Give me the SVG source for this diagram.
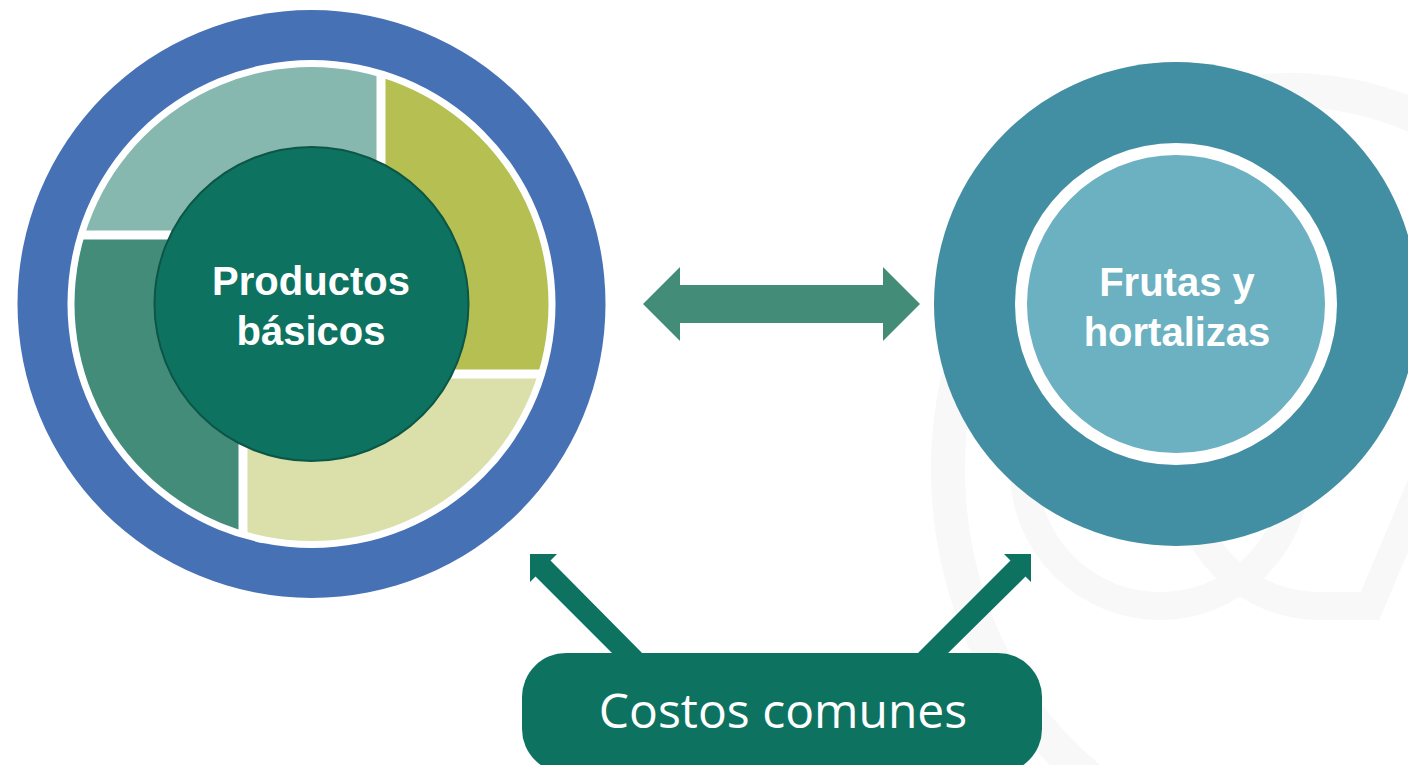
<svg xmlns="http://www.w3.org/2000/svg" width="1408" height="765" viewBox="0 0 1408 765">
<style>
.lbl{font-family:"Liberation Sans",Arial,sans-serif;font-weight:bold;font-size:40px;fill:#ffffff;text-anchor:middle}
.box{font-family:"Open Sans","Liberation Sans",sans-serif;font-size:48px;fill:#ffffff;text-anchor:middle}
.wm{fill:none;stroke:#f8f8f8}
.dark{fill:#0e7261}
</style>
<defs>
<clipPath id="ringClip"><circle cx="311.5" cy="304" r="237"/></clipPath>
</defs>
<rect width="1408" height="765" fill="#ffffff"/>
<g id="watermark">
<ellipse class="wm" cx="1290" cy="470" rx="342" ry="380" stroke-width="34"/>
<circle class="wm" cx="1160" cy="470" r="136" stroke-width="28"/>
<path class="wm" d="M1184,470 A136,136 0 0 0 1320,606 L1370,606 L1440,440" stroke-width="28"/>
</g>
<g id="node-productos">
<circle cx="311.5" cy="304" r="294" fill="#4771b5"/>
<circle cx="311.5" cy="304" r="244" fill="#ffffff"/>
<g clip-path="url(#ringClip)">
<rect x="60" y="50" width="316.5" height="180.5" fill="#87b8af"/>
<rect x="385.5" y="50" width="180" height="319.5" fill="#b6bf52"/>
<rect x="247.5" y="378.5" width="318" height="180" fill="#dbe0aa"/>
<rect x="60" y="239.5" width="178.5" height="320" fill="#438c79"/>
</g>
<circle cx="311.5" cy="304" r="157" fill="#0e7261" stroke="#0b5646" stroke-width="2"/>
<text class="lbl" x="311" y="295">Productos</text>
<text class="lbl" x="311" y="345">básicos</text>
</g>
<g id="node-frutas">
<circle cx="1176" cy="304" r="242" fill="#428ea2"/>
<circle cx="1176" cy="304" r="161" fill="#ffffff"/>
<circle cx="1176" cy="304" r="149" fill="#6bb1c1"/>
<text class="lbl" x="1177" y="296">Frutas y</text>
<text class="lbl" x="1177" y="346">hortalizas</text>
</g>
<g id="connectors">
<polygon fill="#438c78" points="643,304 680,267 680,285 883,285 883,267 920,304 883,341 883,323 680,323 680,341"/>
<polygon class="dark" points="530,554 557,554 550.5,560.5 649,660 619,660 535.5,576.5 530,582"/>
<polygon class="dark" points="1031,554 1004,554 1010.5,560.5 911,660 941,660 1025.5,576.5 1031,582"/>
</g>
<g id="node-costos">
<rect class="dark" x="522" y="653" width="520" height="120" rx="44" ry="44"/>
<text class="box" x="783" y="728">Costos comunes</text>
</g>
</svg>
